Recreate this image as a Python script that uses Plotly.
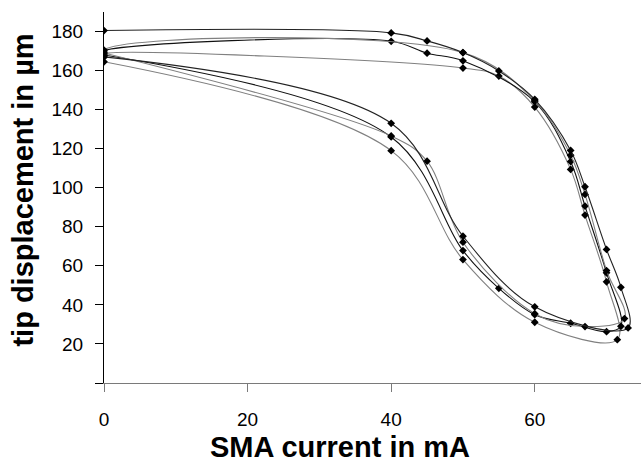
import plotly.graph_objects as go

# Heating branches (current increasing) for four cycles
heat1_x = [0, 40, 50, 60, 71.5]
heat1_y = [164.5, 119, 63.2, 31.1, 22.2]
heat2_x = [0, 40, 50, 55, 60, 65, 70, 72]
heat2_y = [168, 126, 67.8, 48.5, 35, 30.6, 26.3, 29]
heat3_x = [0, 40, 45, 50, 60, 67, 72.5]
heat3_y = [169, 126.5, 113.6, 72.1, 35.5, 28.9, 33]
heat4_x = [0, 40, 50, 60, 73]
heat4_y = [167, 133, 75.2, 39, 28.2]

# Cooling branches (current decreasing)
cool1_x = [70, 67, 65, 60, 55, 50, 0]
cool1_y = [51.8, 86, 109.4, 141.3, 157.2, 161.3, 168.5]
cool2_x = [70, 67, 65, 60, 50, 45, 40, 0]
cool2_y = [56.4, 90.6, 113.4, 144, 165, 168.9, 175, 170]
cool3_x = [70, 67, 65, 60, 50, 0]
cool3_y = [57.6, 96.6, 116.7, 144.5, 169.2, 170.5]
cool4_x = [72, 70, 67, 65, 60, 55, 50, 45, 40, 0]
cool4_y = [49, 68.4, 100.5, 119.1, 145.3, 159.8, 169.2, 175.2, 179.3, 180.5]

x_ticks = [0, 20, 40, 60]
y_ticks = [0, 20, 40, 60, 80, 100, 120, 140, 160, 180]
y_ticktext = ["", "20", "40", "60", "80", "100", "120", "140", "160", "180"]

heats = [(heat1_x, heat1_y), (heat2_x, heat2_y), (heat3_x, heat3_y), (heat4_x, heat4_y)]
cools = [(cool1_x, cool1_y), (cool2_x, cool2_y), (cool3_x, cool3_y), (cool4_x, cool4_y)]
colors = ["#808080", "#111111", "#808080", "#222222"]

fig = go.Figure()
for i in range(4):
    hx, hy = heats[i]
    cx, cy = cools[i]
    xs = list(hx) + list(cx)
    ys = list(hy) + list(cy)
    if i < 3:
        nx, ny = heats[i + 1]
        xs = xs + [nx[0]]
        ys = ys + [ny[0]]
    fig.add_trace(go.Scatter(
        x=xs, y=ys, mode="lines+markers",
        line=dict(shape="spline", color=colors[i], width=1.1),
        marker=dict(symbol="diamond", size=6, color="black"),
        showlegend=False,
    ))

fig.update_layout(
    width=641, height=462,
    margin=dict(l=104, r=0, t=12, b=79),
    paper_bgcolor="white", plot_bgcolor="white",
    font=dict(family="Liberation Sans, Arial, sans-serif", size=19, color="black"),
    xaxis=dict(
        range=[0, 74.8], tickvals=x_ticks, showgrid=False, zeroline=False,
        showline=True, linecolor="#7a7a7a", linewidth=1,
        ticks="outside", ticklen=8, tickcolor="#7a7a7a", tickwidth=1,
        ticklabelstandoff=11, automargin=False,
    ),
    yaxis=dict(
        range=[0, 190], tickvals=y_ticks, ticktext=y_ticktext,
        showgrid=False, zeroline=False,
        showline=True, linecolor="black", linewidth=1,
        ticks="outside", ticklen=8, tickcolor="black", tickwidth=1,
        ticklabelstandoff=8, automargin=False,
    ),
    annotations=[
        dict(text="<b>SMA current in mA</b>", xref="paper", yref="paper",
             x=0.4395, y=-0.173, xanchor="center", yanchor="middle",
             showarrow=False, font=dict(size=29, color="black")),
        dict(text="<b>tip displacement in µm</b>", xref="paper", yref="paper",
             x=-0.1499, y=0.52, xanchor="center", yanchor="middle",
             textangle=-90, showarrow=False, font=dict(size=29, color="black")),
    ],
)

fig.write_html("out.html")
